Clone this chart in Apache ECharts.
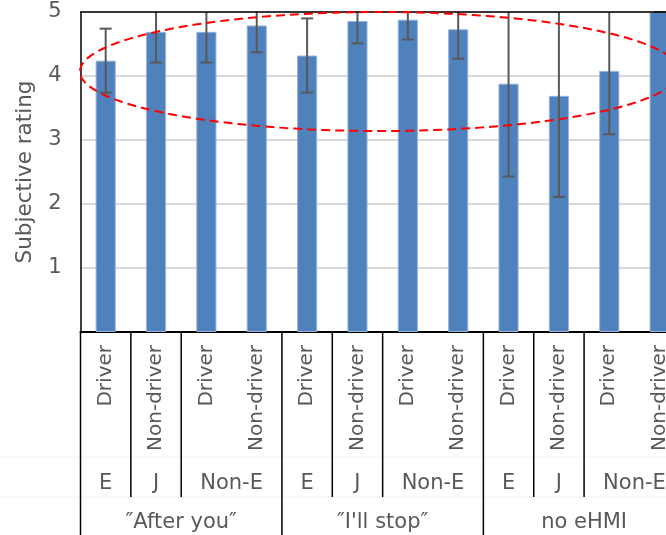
<!DOCTYPE html>
<html>
<head>
<meta charset="utf-8">
<script src="https://cdn.jsdelivr.net/npm/echarts@6/dist/echarts.min.js"></script>
<style>
  html, body { margin: 0; padding: 0; overflow: hidden; background: #fff; }
  #chart { width: 700px; height: 535px; }
</style>
</head>
<body>
<div id="chart"></div>
<script>
// Participant role for each bar (innermost axis level)
const roles = ['Driver', 'Non-driver', 'Driver', 'Non-driver',
               'Driver', 'Non-driver', 'Driver', 'Non-driver',
               'Driver', 'Non-driver', 'Driver', 'Non-driver'];
// Nationality groups (middle axis level) and how many bars each covers
const nationalities = ['E', 'J', 'Non-E', 'E', 'J', 'Non-E', 'E', 'J', 'Non-E'];
const nationalitySpans = [1, 1, 2, 1, 1, 2, 1, 1, 2];
// eHMI message (outer axis level) and how many bars each covers
const messages = ['″After you″', '″I\'ll stop″', 'no eHMI'];
const messageSpans = [4, 4, 4];
// Mean subjective rating and standard deviation per bar
const meanRating = [4.24, 4.69, 4.69, 4.79, 4.32, 4.86, 4.88, 4.73, 3.88, 3.69, 4.08, 5.00];
const sdRating   = [0.50, 0.48, 0.48, 0.42, 0.58, 0.35, 0.31, 0.46, 1.45, 1.58, 0.99, 0.00];
// Rating scale
const yMin = 0, yMax = 5, yStep = 1;
// Highlight ellipse around the high-rated bars (category units, rating units)
const highlightCenter = [5.44, 4.07];
const highlightRadius = [5.95, 0.93];

const FONT = '"DejaVu Sans", "Noto Sans", sans-serif';
const TEXT = '#595959';

const chart = echarts.init(document.getElementById('chart'), null, { renderer: 'canvas' });

function bandInfo(api) {
  const p0 = api.coord([0, 0]);
  const p1 = api.coord([1, 0]);
  const pTop = api.coord([0, 1]);
  return { x0: p0[0], y0: p0[1], bw: p1[0] - p0[0], unitY: p0[1] - pTop[1] };
}

chart.setOption({
  animation: false,
  backgroundColor: '#fff',
  grid: { left: 80.5, right: 15.2, top: 12, bottom: 203, containLabel: false },
  xAxis: {
    type: 'category',
    data: roles,
    axisLine: { show: true, lineStyle: { color: '#000', width: 2 } },
    axisTick: { show: false },
    axisLabel: {
      interval: 0, rotate: 90, margin: 13,
      fontSize: 20, color: TEXT, fontFamily: FONT
    },
    splitLine: { show: false }
  },
  yAxis: {
    type: 'value', min: yMin, max: yMax, interval: yStep,
    name: 'Subjective rating', nameLocation: 'middle', nameGap: 44,
    nameTextStyle: { fontSize: 21.5, color: TEXT, fontFamily: FONT },
    axisLine: { show: true, lineStyle: { color: '#000', width: 1.5 } },
    axisTick: { show: false },
    axisLabel: {
      margin: 19, fontSize: 21, color: TEXT, fontFamily: FONT,
      formatter: v => (v === yMin ? '' : String(v))
    },
    splitLine: { show: true, lineStyle: { color: '#d9d9d9', width: 2 } }
  },
  series: [
    {
      type: 'bar',
      data: meanRating,
      barWidth: '40%',
      itemStyle: { color: '#4f81bd', borderColor: '#98b4da', borderWidth: 1 },
      z: 2
    },
    {
      // standard-deviation whiskers, cut at the top of the scale
      type: 'custom',
      data: meanRating.map((m, i) => [i, m, sdRating[i]]),
      encode: { x: 0, y: 1 },
      z: 3,
      silent: true,
      renderItem(params, api) {
        const i = api.value(0), m = api.value(1), sd = api.value(2);
        const hiRaw = m + sd;
        const hi = Math.min(hiRaw, yMax);
        const lo = Math.max(m - sd, yMin);
        const pHi = api.coord([i, hi]);
        const pLo = api.coord([i, lo]);
        const half = 6;
        const style = { stroke: '#595959', lineWidth: 2 };
        const children = [
          { type: 'line', shape: { x1: pHi[0], y1: pHi[1], x2: pLo[0], y2: pLo[1] }, style },
          { type: 'line', shape: { x1: pLo[0] - half, y1: pLo[1], x2: pLo[0] + half, y2: pLo[1] }, style }
        ];
        if (hiRaw <= yMax + 1e-9) {
          children.push({ type: 'line', shape: { x1: pHi[0] - half, y1: pHi[1], x2: pHi[0] + half, y2: pHi[1] }, style });
        }
        return { type: 'group', children };
      }
    },
    {
      // plot frame top edge and the grouped category labels with their dividers
      type: 'custom',
      data: [[0, 0]],
      encode: { x: 0, y: 1 },
      z: 4,
      silent: true,
      renderItem(params, api) {
        const b = bandInfo(api);
        const left = b.x0 - b.bw / 2;
        const right = left + b.bw * roles.length;
        const topY = api.coord([0, yMax])[1];
        const y0 = b.y0;
        const children = [];
        const W = api.getWidth();
        // faint level separators
        [y0 + 125, y0 + 165].forEach(y => {
          children.push({ type: 'line', shape: { x1: 0, y1: y, x2: W, y2: y },
            style: { stroke: '#f0f0f0', lineWidth: 1 } });
        });
        children.push({ type: 'line', shape: { x1: left, y1: topY, x2: right, y2: topY },
          style: { stroke: '#000', lineWidth: 1.3 } });
        // outer-level boundaries
        const outerEdges = new Set([0]);
        let acc = 0;
        messageSpans.forEach(s => { acc += s; outerEdges.add(acc); });
        // middle level labels and dividers
        let start = 0;
        const edges = new Set([0]);
        nationalities.forEach((lab, k) => {
          const end = start + nationalitySpans[k];
          edges.add(end);
          children.push({ type: 'text', style: {
            text: lab, x: left + (start + end) / 2 * b.bw, y: y0 + 152,
            align: 'center', verticalAlign: 'middle',
            fill: TEXT, font: '21px ' + FONT } });
          start = end;
        });
        edges.forEach(e => {
          const x = left + e * b.bw;
          const long = outerEdges.has(e);
          children.push({ type: 'line', shape: { x1: x, y1: y0, x2: x, y2: y0 + (long ? 220 : 165) },
            style: { stroke: '#000', lineWidth: 1.5 } });
        });
        // outer level labels
        start = 0;
        messages.forEach((lab, k) => {
          const end = start + messageSpans[k];
          children.push({ type: 'text', style: {
            text: lab, x: left + (start + end) / 2 * b.bw, y: y0 + 191,
            align: 'center', verticalAlign: 'middle',
            fill: TEXT, font: '21px ' + FONT } });
          start = end;
        });
        return { type: 'group', children };
      }
    },
    {
      // dashed highlight ellipse
      type: 'custom',
      data: [[0, 0]],
      encode: { x: 0, y: 1 },
      z: 5,
      silent: true,
      renderItem(params, api) {
        const b = bandInfo(api);
        const cx = b.x0 + highlightCenter[0] * b.bw;
        const cy = api.coord([0, highlightCenter[1]])[1];
        const rx = highlightRadius[0] * b.bw;
        const ry = highlightRadius[1] * b.unitY;
        const pts = [];
        const n = 240;
        for (let k = 0; k < n; k++) {
          const t = (k / n) * Math.PI * 2;
          pts.push([cx + rx * Math.cos(t), cy + ry * Math.sin(t)]);
        }
        return { type: 'polygon', shape: { points: pts },
          style: { fill: 'none', stroke: '#ff0000', lineWidth: 2, lineDash: [9, 5] } };
      }
    }
  ]
});
</script>
</body>
</html>
